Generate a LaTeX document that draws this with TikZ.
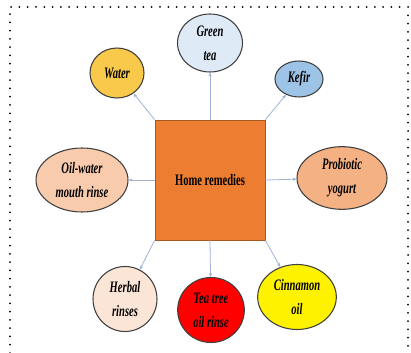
\documentclass[tikz,border=0pt]{standalone}
\usepackage{fontspec}
\setmainfont{Liberation Serif}
\newfontfamily\narrowserif[FakeStretch=0.66]{Liberation Serif}
\usepackage{xcolor}
\usetikzlibrary{shapes.geometric,arrows.meta}

\definecolor{boxorange}{HTML}{ED7D31}
\definecolor{waterfill}{HTML}{F8C94A}
\definecolor{teafill}{HTML}{DEEBF7}
\definecolor{kefirfill}{HTML}{9DC3E6}
\definecolor{oilfill}{HTML}{F8CBAD}
\definecolor{yogurtfill}{HTML}{F4B183}
\definecolor{herbalfill}{HTML}{FBE5D6}
\definecolor{linkblue}{HTML}{9FB2D6}

\begin{document}
\begin{tikzpicture}[x=0.75pt,y=-0.75pt,
  remedy/.style={ellipse,draw=black!75,line width=0.8pt,inner sep=0pt,align=center,
    font=\narrowserif\bfseries\itshape\fontsize{12}{18}\selectfont},
  link/.style={draw=linkblue,line width=0.6pt,-{Stealth[length=3pt,width=2.5pt]}}]
\useasboundingbox (0,0) rectangle (411,353);

% dotted frame, open at the bottom
\draw[line width=1.5pt,line cap=round,dash pattern=on 0pt off 6.2pt] (10,353) -- (10,7) -- (408,7) -- (408,350);

% centre box
\node[draw=boxorange!70!black,fill=boxorange,line width=0.7pt,minimum width=82.5pt,minimum height=90pt,
  font=\narrowserif\bfseries\fontsize{12}{14}\selectfont] (hr) at (210,180) {Home remedies};

% remedies around it
\node[remedy,fill=teafill,minimum width=48.75pt,minimum height=43.5pt] (greentea) at (210,43) {Green\\tea};
\node[remedy,fill=waterfill,minimum width=40.5pt,minimum height=37.5pt] (water) at (117,73) {Water};
\node[remedy,fill=kefirfill,minimum width=36pt,minimum height=27pt] (kefir) at (299,79) {Kefir};
\node[remedy,fill=oilfill,minimum width=69pt,minimum height=48pt] (oilwater) at (82,180) {Oil-water\\mouth rinse};
\node[remedy,fill=yogurtfill,minimum width=67.5pt,minimum height=47pt] (yogurt) at (342,178) {Probiotic\\yogurt};
\node[remedy,fill=herbalfill,minimum width=48pt,minimum height=48.75pt] (herbal) at (125,299) {Herbal\\rinses};
\node[remedy,fill=red,minimum width=50pt,minimum height=48.75pt] (teatree) at (211,310) {Tea tree\\oil rinse};
\node[remedy,fill=yellow,minimum width=59pt,minimum height=48.75pt] (cinnamon) at (297,297) {Cinnamon\\oil};

% links
\draw[link] (hr.north west) -- (water);
\draw[link] (hr.north) -- (greentea);
\draw[link] (hr.north east) -- (kefir);
\draw[link] (hr.west) -- (oilwater);
\draw[link] (hr.east) -- (yogurt);
\draw[link] (hr.south west) -- (herbal);
\draw[link] (hr.south) -- (teatree);
\draw[link] (hr.south east) -- (cinnamon);
\end{tikzpicture}
\end{document}
